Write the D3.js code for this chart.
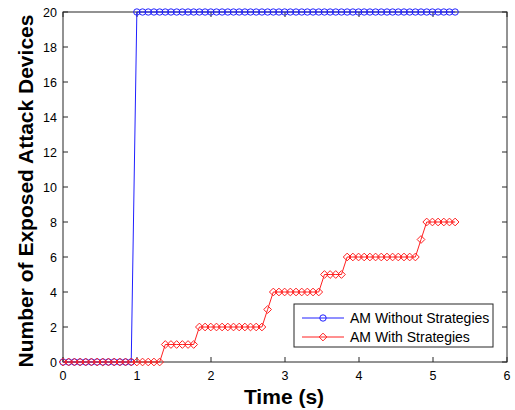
<!DOCTYPE html>
<html lang="en">
  <head>
    <meta charset="UTF-8" />
    <title>Exposed Attack Devices</title>
    <script src="https://d3js.org/d3.v7.min.js"></script>
    <style>
      body { margin: 0; background: #fff; }
      text { font-family: Arial, "Liberation Sans", sans-serif; }
    </style>
  </head>
  <body>
    <svg width="515" height="410"></svg>
    <script>
      // sample times (s)
      const times = [0, 0.077, 0.154, 0.230, 0.307, 0.384, 0.461, 0.538, 0.614, 0.691,
        0.768, 0.845, 0.922, 0.998, 1.075, 1.152, 1.229, 1.306, 1.382, 1.459,
        1.536, 1.613, 1.690, 1.766, 1.843, 1.920, 1.997, 2.074, 2.150, 2.227,
        2.304, 2.381, 2.458, 2.534, 2.611, 2.688, 2.765, 2.842, 2.918, 2.995,
        3.072, 3.149, 3.226, 3.302, 3.379, 3.456, 3.533, 3.610, 3.686, 3.763,
        3.840, 3.917, 3.994, 4.070, 4.147, 4.224, 4.301, 4.378, 4.454, 4.531,
        4.608, 4.685, 4.762, 4.838, 4.915, 4.992, 5.069, 5.146, 5.222, 5.299];
      const withoutStrategies = [0, 0, 0, 0, 0, 0, 0, 0, 0, 0, 0, 0, 0,
        20, 20, 20, 20, 20, 20, 20, 20, 20, 20, 20, 20, 20, 20, 20, 20, 20,
        20, 20, 20, 20, 20, 20, 20, 20, 20, 20, 20, 20, 20, 20, 20, 20, 20,
        20, 20, 20, 20, 20, 20, 20, 20, 20, 20, 20, 20, 20, 20, 20, 20, 20,
        20, 20, 20, 20, 20, 20];
      const withStrategies = [0, 0, 0, 0, 0, 0, 0, 0, 0, 0, 0, 0, 0, 0, 0, 0, 0, 0,
        1, 1, 1, 1, 1, 1,
        2, 2, 2, 2, 2, 2, 2, 2, 2, 2, 2, 2,
        3,
        4, 4, 4, 4, 4, 4, 4, 4, 4,
        5, 5, 5, 5,
        6, 6, 6, 6, 6, 6, 6, 6, 6, 6, 6, 6, 6,
        7,
        8, 8, 8, 8, 8, 8];
      const xTicks = [0, 1, 2, 3, 4, 5, 6];
      const yTicks = [0, 2, 4, 6, 8, 10, 12, 14, 16, 18, 20];
      const seriesNames = ["AM Without Strategies", "AM With Strategies"];

      const svg = d3.select("svg");
      const plotL = 63, plotR = 507, plotT = 12, plotB = 362;

      const x = d3.scaleLinear().domain([0, 6]).range([plotL, plotR]);
      const y = d3.scaleLinear().domain([0, 20]).range([plotB, plotT]);

      // axes, ticks inward on all four sides
      const g = svg.append("g").attr("font-size", 12.5).attr("fill", "#000");
      const tick = 5;
      const axisColor = "#262626";

      g.append("rect")
        .attr("x", plotL).attr("y", plotT)
        .attr("width", plotR - plotL).attr("height", plotB - plotT)
        .attr("fill", "none").attr("stroke", axisColor).attr("stroke-width", 1);

      xTicks.forEach(function (t) {
        g.append("line").attr("x1", x(t)).attr("x2", x(t))
          .attr("y1", plotB).attr("y2", plotB - tick).attr("stroke", axisColor);
        g.append("line").attr("x1", x(t)).attr("x2", x(t))
          .attr("y1", plotT).attr("y2", plotT + tick).attr("stroke", axisColor);
        g.append("text").attr("x", x(t)).attr("y", plotB + 18)
          .attr("text-anchor", "middle").text(t);
      });

      yTicks.forEach(function (t) {
        g.append("line").attr("x1", plotL).attr("x2", plotL + tick)
          .attr("y1", y(t)).attr("y2", y(t)).attr("stroke", axisColor);
        g.append("line").attr("x1", plotR).attr("x2", plotR - tick)
          .attr("y1", y(t)).attr("y2", y(t)).attr("stroke", axisColor);
        g.append("text").attr("x", plotL - 6).attr("y", y(t) + 4.5)
          .attr("text-anchor", "end").text(t);
      });

      svg.append("text")
        .attr("x", 284).attr("y", 404)
        .attr("text-anchor", "middle").attr("font-size", 21).attr("font-weight", "bold")
        .text("Time (s)");

      svg.append("text")
        .attr("transform", "translate(33,191) rotate(-90)")
        .attr("text-anchor", "middle").attr("font-size", 21).attr("font-weight", "bold")
        .text("Number of Exposed Attack Devices");

      const line = d3.line().x(function (d) { return x(d[0]); }).y(function (d) { return y(d[1]); });
      const diamond = d3.symbol().type(d3.symbolDiamond2).size(38);

      function drawSeries(values, color, marker) {
        const pts = times.map(function (t, i) { return [t, values[i]]; });
        svg.append("path").datum(pts).attr("d", line)
          .attr("fill", "none").attr("stroke", color).attr("stroke-width", 1);
        const m = svg.append("g");
        pts.forEach(function (p) {
          if (marker === "circle") {
            m.append("circle").attr("cx", x(p[0])).attr("cy", y(p[1])).attr("r", 3.2)
              .attr("fill", "none").attr("stroke", color).attr("stroke-width", 1);
          } else {
            m.append("path").attr("d", diamond)
              .attr("transform", "translate(" + x(p[0]) + "," + y(p[1]) + ")")
              .attr("fill", "none").attr("stroke", color).attr("stroke-width", 1);
          }
        });
      }

      drawSeries(withoutStrategies, "#2020ff", "circle");
      drawSeries(withStrategies, "#ff2020", "diamond");

      // legend
      const lg = svg.append("g");
      lg.append("rect").attr("x", 294).attr("y", 304).attr("width", 199).attr("height", 43)
        .attr("fill", "#fff").attr("stroke", axisColor);
      const legendColors = ["#2020ff", "#ff2020"];
      seriesNames.forEach(function (name, i) {
        const ly = 318 + i * 19;
        lg.append("line").attr("x1", 302).attr("x2", 344).attr("y1", ly).attr("y2", ly)
          .attr("stroke", legendColors[i]);
        if (i === 0) {
          lg.append("circle").attr("cx", 323).attr("cy", ly).attr("r", 3.2)
            .attr("fill", "none").attr("stroke", legendColors[i]);
        } else {
          lg.append("path").attr("d", diamond).attr("transform", "translate(323," + ly + ")")
            .attr("fill", "none").attr("stroke", legendColors[i]);
        }
        lg.append("text").attr("x", 350).attr("y", ly + 5).attr("font-size", 14).text(name);
      });
    </script>
  </body>
</html>
